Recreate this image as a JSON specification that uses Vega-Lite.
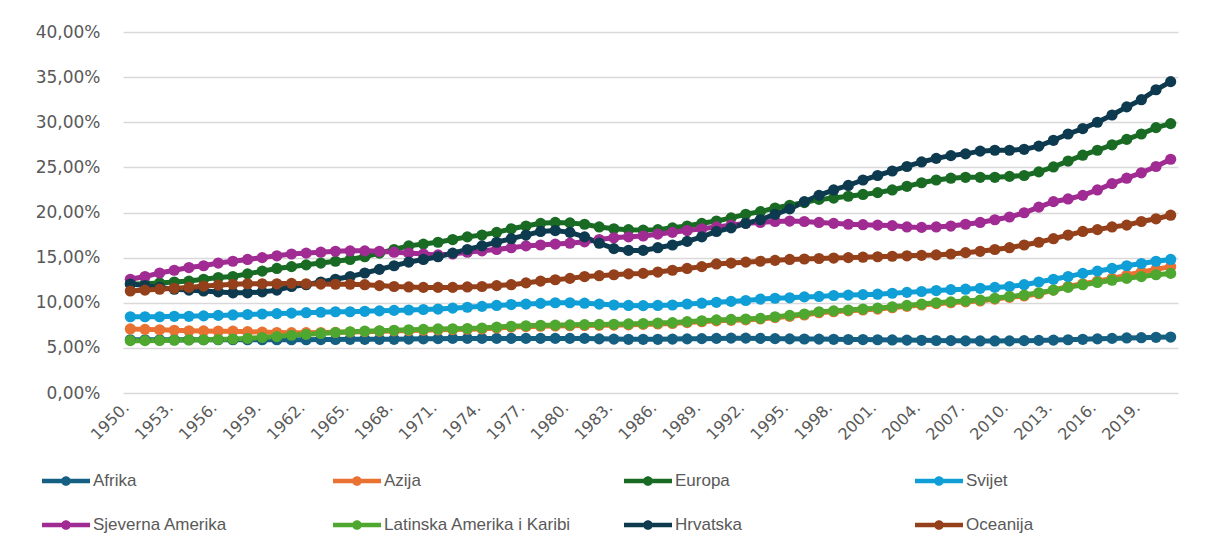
{
"$schema": "https://vega.github.io/schema/vega-lite/v6.json",
"width": 1055, "height": 361,
"autosize": {"type": "none"},
"padding": {"left": 123, "top": 32, "right": 27, "bottom": 159},
"background": "white",
"data": {"values": [
{"g":1950,"Afrika":5.9,"Azija":7.1,"Europa":12.07,"Svijet":8.45,"Sjeverna Amerika":12.6,"Latinska Amerika i Karibi":5.8,"Hrvatska":12.07,"Oceanija":11.3},
{"g":1951,"Afrika":5.9,"Azija":7.05,"Europa":12.1,"Svijet":8.45,"Sjeverna Amerika":12.9,"Latinska Amerika i Karibi":5.8,"Hrvatska":11.9,"Oceanija":11.4},
{"g":1952,"Afrika":5.9,"Azija":7.0,"Europa":12.2,"Svijet":8.45,"Sjeverna Amerika":13.3,"Latinska Amerika i Karibi":5.82,"Hrvatska":11.7,"Oceanija":11.5},
{"g":1953,"Afrika":5.9,"Azija":6.95,"Europa":12.3,"Svijet":8.5,"Sjeverna Amerika":13.6,"Latinska Amerika i Karibi":5.85,"Hrvatska":11.5,"Oceanija":11.6},
{"g":1954,"Afrika":5.9,"Azija":6.9,"Europa":12.4,"Svijet":8.5,"Sjeverna Amerika":13.9,"Latinska Amerika i Karibi":5.88,"Hrvatska":11.4,"Oceanija":11.7},
{"g":1955,"Afrika":5.9,"Azija":6.88,"Europa":12.6,"Svijet":8.55,"Sjeverna Amerika":14.1,"Latinska Amerika i Karibi":5.9,"Hrvatska":11.3,"Oceanija":11.85},
{"g":1956,"Afrika":5.9,"Azija":6.85,"Europa":12.8,"Svijet":8.6,"Sjeverna Amerika":14.4,"Latinska Amerika i Karibi":5.93,"Hrvatska":11.2,"Oceanija":11.95},
{"g":1957,"Afrika":5.9,"Azija":6.85,"Europa":12.9,"Svijet":8.65,"Sjeverna Amerika":14.6,"Latinska Amerika i Karibi":5.98,"Hrvatska":11.1,"Oceanija":12.05},
{"g":1958,"Afrika":5.9,"Azija":6.8,"Europa":13.2,"Svijet":8.7,"Sjeverna Amerika":14.8,"Latinska Amerika i Karibi":6.05,"Hrvatska":11.1,"Oceanija":12.1},
{"g":1959,"Afrika":5.9,"Azija":6.75,"Europa":13.5,"Svijet":8.75,"Sjeverna Amerika":15.0,"Latinska Amerika i Karibi":6.15,"Hrvatska":11.2,"Oceanija":12.1},
{"g":1960,"Afrika":5.9,"Azija":6.7,"Europa":13.8,"Svijet":8.8,"Sjeverna Amerika":15.2,"Latinska Amerika i Karibi":6.25,"Hrvatska":11.4,"Oceanija":12.1},
{"g":1961,"Afrika":5.9,"Azija":6.68,"Europa":14.0,"Svijet":8.85,"Sjeverna Amerika":15.4,"Latinska Amerika i Karibi":6.4,"Hrvatska":11.8,"Oceanija":12.15},
{"g":1962,"Afrika":5.9,"Azija":6.68,"Europa":14.2,"Svijet":8.9,"Sjeverna Amerika":15.5,"Latinska Amerika i Karibi":6.5,"Hrvatska":12.0,"Oceanija":12.1},
{"g":1963,"Afrika":5.92,"Azija":6.7,"Europa":14.4,"Svijet":8.95,"Sjeverna Amerika":15.6,"Latinska Amerika i Karibi":6.6,"Hrvatska":12.3,"Oceanija":12.07},
{"g":1964,"Afrika":5.93,"Azija":6.72,"Europa":14.6,"Svijet":9.0,"Sjeverna Amerika":15.7,"Latinska Amerika i Karibi":6.7,"Hrvatska":12.6,"Oceanija":12.05},
{"g":1965,"Afrika":5.95,"Azija":6.76,"Europa":14.8,"Svijet":9.0,"Sjeverna Amerika":15.75,"Latinska Amerika i Karibi":6.79,"Hrvatska":12.9,"Oceanija":12.05},
{"g":1966,"Afrika":5.95,"Azija":6.8,"Europa":15.1,"Svijet":9.05,"Sjeverna Amerika":15.75,"Latinska Amerika i Karibi":6.85,"Hrvatska":13.3,"Oceanija":12.0},
{"g":1967,"Afrika":5.95,"Azija":6.85,"Europa":15.5,"Svijet":9.1,"Sjeverna Amerika":15.7,"Latinska Amerika i Karibi":6.9,"Hrvatska":13.7,"Oceanija":11.9},
{"g":1968,"Afrika":5.95,"Azija":6.88,"Europa":15.9,"Svijet":9.15,"Sjeverna Amerika":15.6,"Latinska Amerika i Karibi":6.95,"Hrvatska":14.1,"Oceanija":11.8},
{"g":1969,"Afrika":5.97,"Azija":6.92,"Europa":16.3,"Svijet":9.2,"Sjeverna Amerika":15.5,"Latinska Amerika i Karibi":7.0,"Hrvatska":14.5,"Oceanija":11.75},
{"g":1970,"Afrika":6.0,"Azija":6.96,"Europa":16.5,"Svijet":9.25,"Sjeverna Amerika":15.4,"Latinska Amerika i Karibi":7.05,"Hrvatska":14.8,"Oceanija":11.7},
{"g":1971,"Afrika":6.02,"Azija":7.0,"Europa":16.7,"Svijet":9.3,"Sjeverna Amerika":15.3,"Latinska Amerika i Karibi":7.1,"Hrvatska":15.1,"Oceanija":11.7},
{"g":1972,"Afrika":6.05,"Azija":7.03,"Europa":17.0,"Svijet":9.4,"Sjeverna Amerika":15.4,"Latinska Amerika i Karibi":7.12,"Hrvatska":15.5,"Oceanija":11.7},
{"g":1973,"Afrika":6.05,"Azija":7.07,"Europa":17.3,"Svijet":9.5,"Sjeverna Amerika":15.6,"Latinska Amerika i Karibi":7.15,"Hrvatska":15.9,"Oceanija":11.75},
{"g":1974,"Afrika":6.05,"Azija":7.1,"Europa":17.5,"Svijet":9.6,"Sjeverna Amerika":15.75,"Latinska Amerika i Karibi":7.2,"Hrvatska":16.3,"Oceanija":11.8},
{"g":1975,"Afrika":6.05,"Azija":7.2,"Europa":17.8,"Svijet":9.7,"Sjeverna Amerika":15.9,"Latinska Amerika i Karibi":7.3,"Hrvatska":16.7,"Oceanija":11.9},
{"g":1976,"Afrika":6.05,"Azija":7.3,"Europa":18.2,"Svijet":9.8,"Sjeverna Amerika":16.1,"Latinska Amerika i Karibi":7.4,"Hrvatska":17.1,"Oceanija":12.0},
{"g":1977,"Afrika":6.05,"Azija":7.35,"Europa":18.5,"Svijet":9.85,"Sjeverna Amerika":16.3,"Latinska Amerika i Karibi":7.45,"Hrvatska":17.5,"Oceanija":12.2},
{"g":1978,"Afrika":6.05,"Azija":7.4,"Europa":18.8,"Svijet":9.93,"Sjeverna Amerika":16.4,"Latinska Amerika i Karibi":7.5,"Hrvatska":17.9,"Oceanija":12.4},
{"g":1979,"Afrika":6.05,"Azija":7.42,"Europa":18.9,"Svijet":10.0,"Sjeverna Amerika":16.5,"Latinska Amerika i Karibi":7.52,"Hrvatska":18.0,"Oceanija":12.55},
{"g":1980,"Afrika":6.05,"Azija":7.45,"Europa":18.85,"Svijet":10.0,"Sjeverna Amerika":16.6,"Latinska Amerika i Karibi":7.55,"Hrvatska":17.8,"Oceanija":12.7},
{"g":1981,"Afrika":6.05,"Azija":7.48,"Europa":18.7,"Svijet":9.95,"Sjeverna Amerika":16.75,"Latinska Amerika i Karibi":7.58,"Hrvatska":17.3,"Oceanija":12.9},
{"g":1982,"Afrika":6.0,"Azija":7.5,"Europa":18.4,"Svijet":9.85,"Sjeverna Amerika":17.0,"Latinska Amerika i Karibi":7.6,"Hrvatska":16.6,"Oceanija":13.0},
{"g":1983,"Afrika":5.97,"Azija":7.52,"Europa":18.2,"Svijet":9.75,"Sjeverna Amerika":17.2,"Latinska Amerika i Karibi":7.62,"Hrvatska":16.0,"Oceanija":13.1},
{"g":1984,"Afrika":5.95,"Azija":7.55,"Europa":18.1,"Svijet":9.7,"Sjeverna Amerika":17.3,"Latinska Amerika i Karibi":7.65,"Hrvatska":15.8,"Oceanija":13.2},
{"g":1985,"Afrika":5.95,"Azija":7.6,"Europa":18.05,"Svijet":9.68,"Sjeverna Amerika":17.4,"Latinska Amerika i Karibi":7.7,"Hrvatska":15.8,"Oceanija":13.25},
{"g":1986,"Afrika":5.95,"Azija":7.65,"Europa":18.1,"Svijet":9.7,"Sjeverna Amerika":17.6,"Latinska Amerika i Karibi":7.75,"Hrvatska":16.1,"Oceanija":13.4},
{"g":1987,"Afrika":5.97,"Azija":7.7,"Europa":18.3,"Svijet":9.75,"Sjeverna Amerika":17.8,"Latinska Amerika i Karibi":7.8,"Hrvatska":16.4,"Oceanija":13.6},
{"g":1988,"Afrika":6.0,"Azija":7.8,"Europa":18.5,"Svijet":9.86,"Sjeverna Amerika":18.0,"Latinska Amerika i Karibi":7.9,"Hrvatska":16.8,"Oceanija":13.8},
{"g":1989,"Afrika":6.02,"Azija":7.9,"Europa":18.8,"Svijet":9.95,"Sjeverna Amerika":18.2,"Latinska Amerika i Karibi":8.0,"Hrvatska":17.3,"Oceanija":14.0},
{"g":1990,"Afrika":6.05,"Azija":8.0,"Europa":19.05,"Svijet":10.05,"Sjeverna Amerika":18.4,"Latinska Amerika i Karibi":8.1,"Hrvatska":17.9,"Oceanija":14.3},
{"g":1991,"Afrika":6.08,"Azija":8.05,"Europa":19.4,"Svijet":10.15,"Sjeverna Amerika":18.6,"Latinska Amerika i Karibi":8.15,"Hrvatska":18.3,"Oceanija":14.4},
{"g":1992,"Afrika":6.08,"Azija":8.1,"Europa":19.8,"Svijet":10.25,"Sjeverna Amerika":18.8,"Latinska Amerika i Karibi":8.2,"Hrvatska":18.8,"Oceanija":14.5},
{"g":1993,"Afrika":6.05,"Azija":8.2,"Europa":20.1,"Svijet":10.4,"Sjeverna Amerika":18.9,"Latinska Amerika i Karibi":8.27,"Hrvatska":19.2,"Oceanija":14.6},
{"g":1994,"Afrika":6.02,"Azija":8.35,"Europa":20.5,"Svijet":10.5,"Sjeverna Amerika":19.0,"Latinska Amerika i Karibi":8.45,"Hrvatska":19.8,"Oceanija":14.7},
{"g":1995,"Afrika":6.0,"Azija":8.5,"Europa":20.8,"Svijet":10.55,"Sjeverna Amerika":19.05,"Latinska Amerika i Karibi":8.6,"Hrvatska":20.4,"Oceanija":14.8},
{"g":1996,"Afrika":5.98,"Azija":8.65,"Europa":21.1,"Svijet":10.65,"Sjeverna Amerika":19.0,"Latinska Amerika i Karibi":8.75,"Hrvatska":21.2,"Oceanija":14.85},
{"g":1997,"Afrika":5.97,"Azija":8.9,"Europa":21.45,"Svijet":10.7,"Sjeverna Amerika":18.9,"Latinska Amerika i Karibi":9.0,"Hrvatska":21.9,"Oceanija":14.9},
{"g":1998,"Afrika":5.95,"Azija":9.0,"Europa":21.6,"Svijet":10.8,"Sjeverna Amerika":18.8,"Latinska Amerika i Karibi":9.1,"Hrvatska":22.5,"Oceanija":14.95},
{"g":1999,"Afrika":5.93,"Azija":9.1,"Europa":21.8,"Svijet":10.85,"Sjeverna Amerika":18.7,"Latinska Amerika i Karibi":9.2,"Hrvatska":23.0,"Oceanija":15.0},
{"g":2000,"Afrika":5.92,"Azija":9.2,"Europa":22.0,"Svijet":10.9,"Sjeverna Amerika":18.65,"Latinska Amerika i Karibi":9.3,"Hrvatska":23.6,"Oceanija":15.05},
{"g":2001,"Afrika":5.9,"Azija":9.3,"Europa":22.2,"Svijet":10.95,"Sjeverna Amerika":18.6,"Latinska Amerika i Karibi":9.4,"Hrvatska":24.1,"Oceanija":15.1},
{"g":2002,"Afrika":5.88,"Azija":9.45,"Europa":22.5,"Svijet":11.05,"Sjeverna Amerika":18.55,"Latinska Amerika i Karibi":9.55,"Hrvatska":24.6,"Oceanija":15.15},
{"g":2003,"Afrika":5.86,"Azija":9.6,"Europa":22.9,"Svijet":11.15,"Sjeverna Amerika":18.4,"Latinska Amerika i Karibi":9.7,"Hrvatska":25.1,"Oceanija":15.2},
{"g":2004,"Afrika":5.84,"Azija":9.75,"Europa":23.3,"Svijet":11.25,"Sjeverna Amerika":18.35,"Latinska Amerika i Karibi":9.85,"Hrvatska":25.6,"Oceanija":15.25},
{"g":2005,"Afrika":5.82,"Azija":9.9,"Europa":23.6,"Svijet":11.35,"Sjeverna Amerika":18.4,"Latinska Amerika i Karibi":10.0,"Hrvatska":26.0,"Oceanija":15.3},
{"g":2006,"Afrika":5.8,"Azija":10.0,"Europa":23.8,"Svijet":11.45,"Sjeverna Amerika":18.5,"Latinska Amerika i Karibi":10.1,"Hrvatska":26.3,"Oceanija":15.4},
{"g":2007,"Afrika":5.78,"Azija":10.1,"Europa":23.9,"Svijet":11.5,"Sjeverna Amerika":18.7,"Latinska Amerika i Karibi":10.2,"Hrvatska":26.5,"Oceanija":15.55},
{"g":2008,"Afrika":5.77,"Azija":10.2,"Europa":23.9,"Svijet":11.6,"Sjeverna Amerika":18.9,"Latinska Amerika i Karibi":10.3,"Hrvatska":26.8,"Oceanija":15.7},
{"g":2009,"Afrika":5.77,"Azija":10.4,"Europa":23.9,"Svijet":11.7,"Sjeverna Amerika":19.2,"Latinska Amerika i Karibi":10.5,"Hrvatska":26.9,"Oceanija":15.9},
{"g":2010,"Afrika":5.78,"Azija":10.6,"Europa":24.0,"Svijet":11.8,"Sjeverna Amerika":19.5,"Latinska Amerika i Karibi":10.7,"Hrvatska":26.9,"Oceanija":16.1},
{"g":2011,"Afrika":5.8,"Azija":10.75,"Europa":24.1,"Svijet":12.0,"Sjeverna Amerika":19.97,"Latinska Amerika i Karibi":10.85,"Hrvatska":27.0,"Oceanija":16.4},
{"g":2012,"Afrika":5.83,"Azija":11.0,"Europa":24.5,"Svijet":12.3,"Sjeverna Amerika":20.6,"Latinska Amerika i Karibi":11.1,"Hrvatska":27.35,"Oceanija":16.7},
{"g":2013,"Afrika":5.86,"Azija":11.4,"Europa":25.05,"Svijet":12.6,"Sjeverna Amerika":21.2,"Latinska Amerika i Karibi":11.4,"Hrvatska":28.0,"Oceanija":17.1},
{"g":2014,"Afrika":5.9,"Azija":11.8,"Europa":25.7,"Svijet":12.9,"Sjeverna Amerika":21.5,"Latinska Amerika i Karibi":11.7,"Hrvatska":28.7,"Oceanija":17.5},
{"g":2015,"Afrika":5.95,"Azija":12.1,"Europa":26.35,"Svijet":13.25,"Sjeverna Amerika":21.9,"Latinska Amerika i Karibi":12.0,"Hrvatska":29.3,"Oceanija":17.9},
{"g":2016,"Afrika":6.0,"Azija":12.4,"Europa":26.9,"Svijet":13.5,"Sjeverna Amerika":22.5,"Latinska Amerika i Karibi":12.25,"Hrvatska":30.0,"Oceanija":18.1},
{"g":2017,"Afrika":6.05,"Azija":12.7,"Europa":27.5,"Svijet":13.8,"Sjeverna Amerika":23.2,"Latinska Amerika i Karibi":12.5,"Hrvatska":30.8,"Oceanija":18.4},
{"g":2018,"Afrika":6.1,"Azija":13.05,"Europa":28.1,"Svijet":14.1,"Sjeverna Amerika":23.8,"Latinska Amerika i Karibi":12.7,"Hrvatska":31.7,"Oceanija":18.6},
{"g":2019,"Afrika":6.13,"Azija":13.4,"Europa":28.7,"Svijet":14.35,"Sjeverna Amerika":24.4,"Latinska Amerika i Karibi":12.9,"Hrvatska":32.5,"Oceanija":19.0},
{"g":2020,"Afrika":6.17,"Azija":13.7,"Europa":29.4,"Svijet":14.6,"Sjeverna Amerika":25.1,"Latinska Amerika i Karibi":13.1,"Hrvatska":33.6,"Oceanija":19.3},
{"g":2021,"Afrika":6.2,"Azija":14.0,"Europa":29.85,"Svijet":14.8,"Sjeverna Amerika":25.9,"Latinska Amerika i Karibi":13.25,"Hrvatska":34.5,"Oceanija":19.7}
]},
"transform": [{"fold": ["Afrika","Azija","Europa","Svijet","Sjeverna Amerika","Latinska Amerika i Karibi","Hrvatska","Oceanija"], "as": ["Regija","Udio"]}],
"encoding": {
  "x": {"field": "g", "type": "quantitative",
        "scale": {"domain": [1949.5, 2021.5], "nice": false, "zero": false},
        "axis": {"values": [1950,1953,1956,1959,1962,1965,1968,1971,1974,1977,1980,1983,1986,1989,1992,1995,1998,2001,2004,2007,2010,2013,2016,2019],
                 "format": "d", "labelExpr": "datum.label + '.'", "labelAngle": -45, "labelOverlap": false, "labelBound": false,
                 "grid": false, "ticks": false, "domain": false, "title": null, "labelOffset": -10,
                 "labelFont": "DejaVu Sans", "labelFontSize": 16, "labelColor": "#595959", "labelPadding": 6}},
  "y": {"field": "Udio", "type": "quantitative",
        "scale": {"domain": [0, 40], "nice": false},
        "axis": {"values": [0,5,10,15,20,25,30,35,40],
                 "labelExpr": "replace(format(datum.value, '.2f'), '.', ',') + '%'",
                 "grid": true, "gridColor": "#d9d9d9", "gridWidth": 1.3, "ticks": false, "domain": false, "title": null,
                 "labelFont": "DejaVu Sans", "labelFontSize": 17, "labelColor": "#595959", "labelPadding": 23}},
  "color": {"field": "Regija", "type": "nominal",
            "scale": {"domain": ["Afrika","Azija","Europa","Svijet","Sjeverna Amerika","Latinska Amerika i Karibi","Hrvatska","Oceanija"],
                      "range": ["#156082","#E97132","#196B24","#0F9ED5","#A02B93","#4EA72E","#0D3A4E","#94401A"]},
            "legend": {"orient": "none", "legendX": -81, "legendY": 425, "columns": 4, "direction": "horizontal", "title": null,
                       "symbolType": "M-1,-0.09L1,-0.09L1,0.09L-1,0.09Z M0.2,0A0.2,0.2,0,1,1,-0.2,0A0.2,0.2,0,1,1,0.2,0Z",
                       "symbolSize": 2304, "symbolStrokeWidth": 0, "symbolOpacity": 1,
                       "labelFont": "Liberation Sans", "labelFontSize": 17, "labelColor": "#595959", "labelOffset": 3,
                       "columnPadding": 52, "rowPadding": 12, "gridAlign": "all", "labelLimit": 400,
                       "encode": {"symbols": {"update": {"fill": {"scale": "color", "field": "value"}, "stroke": {"value": "transparent"}}}}}}
},
"layer": [
  {"mark": {"type": "line", "strokeWidth": 5}},
  {"mark": {"type": "point", "filled": true, "size": 125, "opacity": 1}}
],
"config": {"view": {"stroke": null}}
}
